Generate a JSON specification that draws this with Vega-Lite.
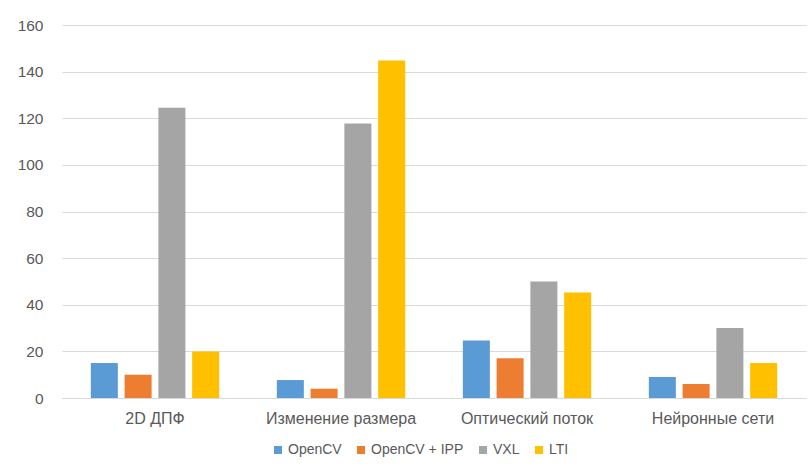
{
  "$schema": "https://vega.github.io/schema/vega-lite/v6.json",
  "width": 744,
  "height": 373,
  "autosize": "none",
  "padding": {"left": 62, "top": 25, "right": 3, "bottom": 68},
  "background": "white",
  "data": {
    "values": [
      {"task": "2D ДПФ", "lib": "OpenCV", "v": 15},
      {"task": "2D ДПФ", "lib": "OpenCV + IPP", "v": 10},
      {"task": "2D ДПФ", "lib": "VXL", "v": 124.5},
      {"task": "2D ДПФ", "lib": "LTI", "v": 20},
      {"task": "Изменение размера", "lib": "OpenCV", "v": 7.7},
      {"task": "Изменение размера", "lib": "OpenCV + IPP", "v": 4},
      {"task": "Изменение размера", "lib": "VXL", "v": 117.7},
      {"task": "Изменение размера", "lib": "LTI", "v": 144.8},
      {"task": "Оптический поток", "lib": "OpenCV", "v": 24.7},
      {"task": "Оптический поток", "lib": "OpenCV + IPP", "v": 17},
      {"task": "Оптический поток", "lib": "VXL", "v": 50},
      {"task": "Оптический поток", "lib": "LTI", "v": 45.3},
      {"task": "Нейронные сети", "lib": "OpenCV", "v": 9},
      {"task": "Нейронные сети", "lib": "OpenCV + IPP", "v": 6},
      {"task": "Нейронные сети", "lib": "VXL", "v": 30},
      {"task": "Нейронные сети", "lib": "LTI", "v": 15}
    ]
  },
  "mark": {"type": "bar"},
  "encoding": {
    "x": {
      "field": "task", "type": "nominal", "sort": null,
      "scale": {"paddingInner": 0.31, "paddingOuter": 0.155},
      "axis": {"title": null, "labelAngle": 0, "ticks": false, "domainColor": "#d9d9d9", "labelPadding": 12, "labelFontSize": 16, "labelColor": "#595959", "labelFont": "Liberation Sans"}
    },
    "xOffset": {
      "field": "lib", "type": "nominal", "sort": ["OpenCV", "OpenCV + IPP", "VXL", "LTI"],
      "scale": {"paddingInner": 0.2}
    },
    "y": {
      "field": "v", "type": "quantitative",
      "scale": {"domain": [0, 160], "nice": false},
      "axis": {"title": null, "values": [0, 20, 40, 60, 80, 100, 120, 140, 160], "ticks": false, "domain": false, "gridColor": "#d9d9d9", "labelPadding": 19, "labelFontSize": 15.5, "labelColor": "#595959", "labelFont": "Liberation Sans"}
    },
    "color": {
      "field": "lib", "type": "nominal", "sort": ["OpenCV", "OpenCV + IPP", "VXL", "LTI"],
      "scale": {"domain": ["OpenCV", "OpenCV + IPP", "VXL", "LTI"], "range": ["#5b9bd5", "#ed7d31", "#a5a5a5", "#ffc000"]},
      "legend": {"title": null, "orient": "none", "direction": "horizontal", "legendX": 209, "legendY": 418, "symbolType": "square", "symbolSize": 64, "symbolStrokeWidth": 0, "labelFontSize": 14, "labelColor": "#595959", "labelFont": "Liberation Sans", "labelOffset": 3, "columnPadding": 12}
    }
  },
  "config": {"view": {"stroke": null}}
}
